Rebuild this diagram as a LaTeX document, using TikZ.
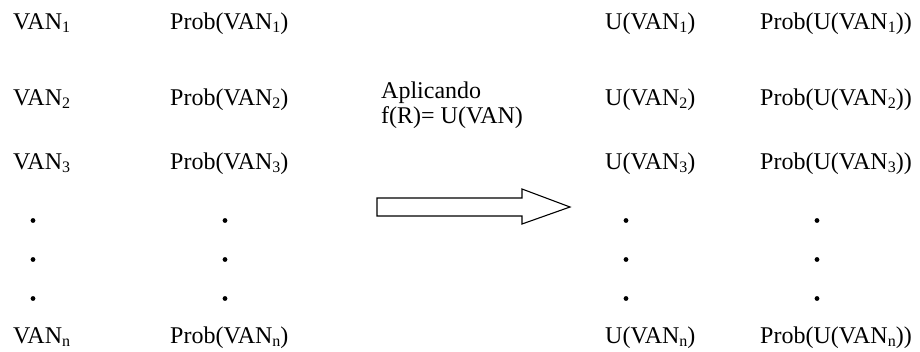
\documentclass[tikz,border=0pt]{standalone}
\usepackage{fontspec}
\setmainfont{Liberation Serif}
\newcommand{\sbs}[1]{\raisebox{-3.5pt}{\fontsize{16}{16}\selectfont #1}}
\tikzset{
  lbl/.style={anchor=base west, inner sep=0pt, font=\fontsize{24}{28}\selectfont},
  vdot/.style={circle, fill=black, inner sep=0pt, minimum size=4.8pt},
  bigarrow/.style={draw=black, line width=1.1pt, fill=white, line join=miter}
}
\begin{document}
\begin{tikzpicture}[x=1pt,y=-1pt]
\useasboundingbox (0,0) rectangle (920,351);

% left table: values and their probabilities
\node[lbl] (v1) at (13,29)  {VAN\sbs{1}};
\node[lbl] (v2) at (13,105) {VAN\sbs{2}};
\node[lbl] (v3) at (13,169) {VAN\sbs{3}};
\node[lbl] (vn) at (13,343) {VAN\sbs{n}};
\node[lbl] (p1) at (170,29)  {Prob(VAN\sbs{1})};
\node[lbl] (p2) at (170,105) {Prob(VAN\sbs{2})};
\node[lbl] (p3) at (170,169) {Prob(VAN\sbs{3})};
\node[lbl] (pn) at (170,343) {Prob(VAN\sbs{n})};

% right table: utilities and their probabilities
\node[lbl] (u1) at (605,29)  {U(VAN\sbs{1})};
\node[lbl] (u2) at (605,105) {U(VAN\sbs{2})};
\node[lbl] (u3) at (605,169) {U(VAN\sbs{3})};
\node[lbl] (un) at (605,343) {U(VAN\sbs{n})};
\node[lbl] (q1) at (760,29)  {Prob(U(VAN\sbs{1}))};
\node[lbl] (q2) at (760,105) {Prob(U(VAN\sbs{2}))};
\node[lbl] (q3) at (760,169) {Prob(U(VAN\sbs{3}))};
\node[lbl] (qn) at (760,343) {Prob(U(VAN\sbs{n}))};

% transformation label
\node[lbl] (ap) at (381,98)  {Aplicando};
\node[lbl] (fr) at (381,123) {f(R)= U(VAN)};

% vertical ellipsis dots
\foreach \c/\x in {a/33, b/225, c/626, d/817}{
  \foreach \r/\y in {1/220.5, 2/259.5, 3/298.5}{
    \node[vdot] (dot\c\r) at (\x,\y) {};
  }
}

% hollow block arrow
\draw[bigarrow] (377,198) -- (522,198) -- (522,189) -- (570,207)
  -- (522,224) -- (522,216) -- (377,216) -- cycle;
\end{tikzpicture}
\end{document}
